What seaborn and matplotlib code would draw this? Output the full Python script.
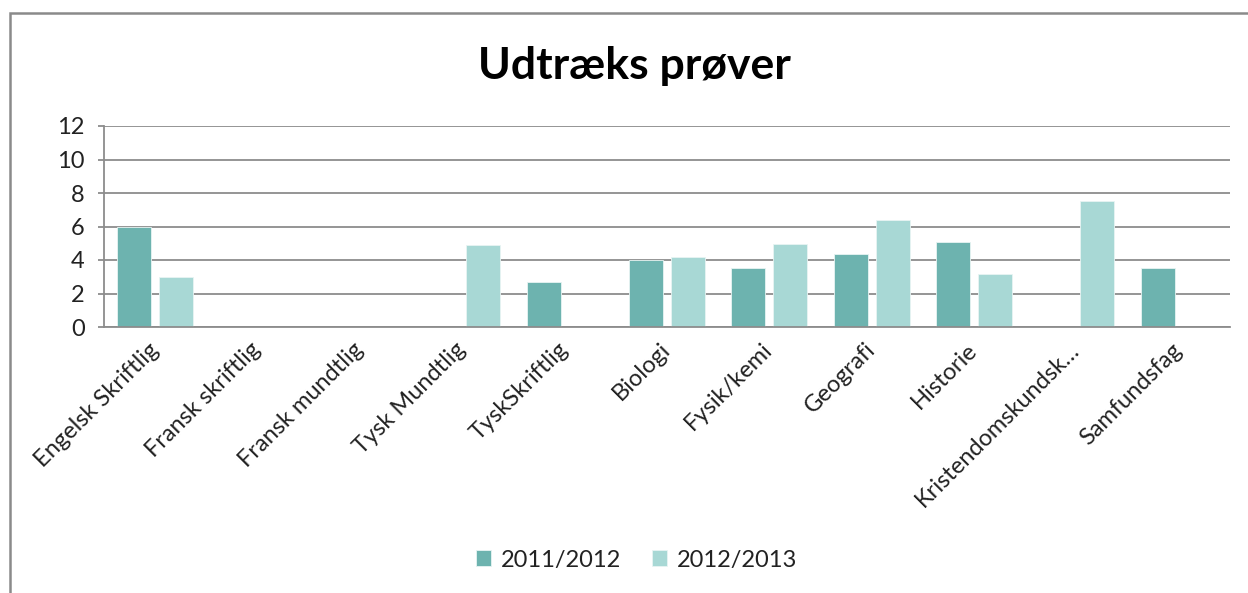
import numpy as np
import pandas as pd
import matplotlib
matplotlib.use("Agg")
import matplotlib.pyplot as plt
import seaborn as sns
from matplotlib.patches import Rectangle

# data
subjects = ["Engelsk Skriftlig", "Fransk skriftlig", "Fransk mundtlig", "Tysk Mundtlig",
            "TyskSkriftlig", "Biologi", "Fysik/kemi", "Geografi", "Historie",
            "Kristendomskundsk…", "Samfundsfag"]
years = ["2011/2012", "2012/2013"]
values_2011 = [6.0, None, None, None, 2.7, 4.0, 3.5, 4.35, 5.1, None, 3.5]
values_2012 = [3.0, None, None, 4.9, None, 4.2, 4.95, 6.4, 3.15, 7.5, None]
y_ticks = [0, 2, 4, 6, 8, 10, 12]

colors = ["#6DB3AF", "#A8D8D5"]

df = pd.DataFrame({
    "subject": subjects * 2,
    "year": [years[0]] * len(subjects) + [years[1]] * len(subjects),
    "value": values_2011 + values_2012,
})
df["value"] = df["value"].astype(float)

sns.set_style("white")
plt.rcParams["font.family"] = ["Lato", "DejaVu Sans"]

fig = plt.figure(figsize=(12.48, 5.93), dpi=100)
ax = fig.add_axes([104 / 1248, 1 - 327 / 593, (1230 - 104) / 1248, (327 - 126) / 593])

sns.barplot(data=df, x="subject", y="value", hue="year", order=subjects, hue_order=years,
            palette=colors, saturation=1, width=0.82, gap=0.19, errorbar=None, ax=ax,
            edgecolor="#E8F4F3", linewidth=0.6)

ax.set_ylim(0, 12)
ax.set_yticks(y_ticks)
ax.set_xlim(-0.5, len(subjects) - 0.5)
ax.yaxis.grid(True, color="#8C8C8C", linewidth=1.3)
ax.set_axisbelow(True)
ax.set_xlabel("")
ax.set_ylabel("")

for side in ["top", "right"]:
    ax.spines[side].set_visible(False)
for side in ["left", "bottom"]:
    ax.spines[side].set_color("#8C8C8C")
    ax.spines[side].set_linewidth(1.3)

ax.tick_params(axis="y", length=4, width=1.3, color="#8C8C8C", labelsize=17,
               labelcolor="#222222", pad=10, left=True)
ax.tick_params(axis="x", length=0, labelsize=17, labelcolor="#222222", pad=14)
ax.set_xticks(range(len(subjects)))
ax.set_xticklabels(subjects, rotation=45, ha="right", va="center", rotation_mode="anchor")

fig.text(0.508, 1 - 66 / 593, "Udtræks prøver", ha="center", va="center",
         fontsize=32, fontweight="bold", color="black")

handles, labels = ax.get_legend_handles_labels()
ax.legend(handles, labels, loc="center", bbox_to_anchor=(0.51, 1 - 560 / 593),
          bbox_transform=fig.transFigure, ncol=2, frameon=False, fontsize=17,
          handlelength=0.65, handleheight=0.65, handletextpad=0.4, columnspacing=1.3,
          labelcolor="#222222")

# chart border (only the left and top edges are visible in the crop)
fig.patches.append(Rectangle((10 / 1248, -0.2), 1.5, 1.2 - 13 / 593,
                             transform=fig.transFigure, fill=False,
                             edgecolor="#8A8A8A", linewidth=1.8, figure=fig))

fig.savefig("out.png", dpi=100, facecolor="white")
